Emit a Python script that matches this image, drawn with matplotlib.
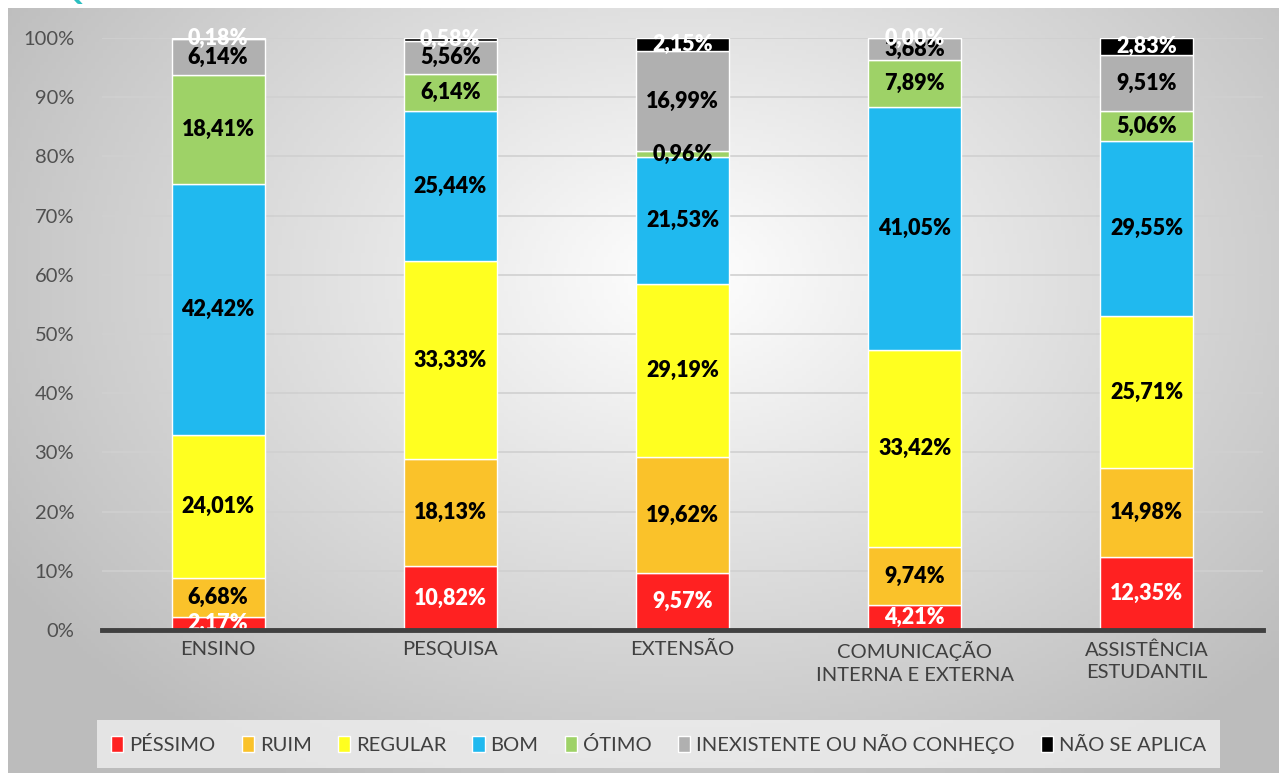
import numpy as np
import matplotlib
matplotlib.use("Agg")
import matplotlib.pyplot as plt

plt.rcParams['font.family'] = ['Lato', 'DejaVu Sans']

categorias = ['ENSINO', 'PESQUISA', 'EXTENSÃO', 'COMUNICAÇÃO\nINTERNA E EXTERNA', 'ASSISTÊNCIA\nESTUDANTIL']
series = ['PÉSSIMO', 'RUIM', 'REGULAR', 'BOM', 'ÓTIMO', 'INEXISTENTE OU NÃO CONHEÇO', 'NÃO SE APLICA']

pessimo = [2.17, 10.82, 9.57, 4.21, 12.35]
ruim = [6.68, 18.13, 19.62, 9.74, 14.98]
regular = [24.01, 33.33, 29.19, 33.42, 25.71]
bom = [42.42, 25.44, 21.53, 41.05, 29.55]
otimo = [18.41, 6.14, 0.96, 7.89, 5.06]
inexistente = [6.14, 5.56, 16.99, 3.68, 9.51]
nao_aplica = [0.18, 0.58, 2.15, 0.00, 2.83]

valores = [pessimo, ruim, regular, bom, otimo, inexistente, nao_aplica]
cores = ['#FF2121', '#FAC22A', '#FFFF20', '#20B9EF', '#9ED267', '#B0B0B0', '#000000']
cor_texto = ['white', 'black', 'black', 'black', 'black', 'black', 'white']

fig = plt.figure(figsize=(12.79, 7.73), dpi=100)
W, H = 1279, 773

# fundo com gradiente radial
bg = fig.add_axes([8 / W, 0, 1 - 8 / W, 1 - 8 / H])
yy, xx = np.mgrid[0:200, 0:320]
d = np.sqrt(((xx - 170) / 200.0) ** 2 + ((yy - 70) / 150.0) ** 2)
g = np.clip(1.0 - 0.26 * d, 0.74, 1.0)
bg.imshow(np.dstack([g, g, g]), aspect='auto', extent=[0, 1, 0, 1])
bg.set_axis_off()

# texto cortado no topo
fig.text(0.045, 1.012, 'Questões', color='#2BBFC0', fontsize=22, fontweight='bold',
         ha='left', va='center')

ax = fig.add_axes([102 / W, 1 - 630 / H, (1263 - 102) / W, (630 - 38) / H])
ax.patch.set_alpha(0)

x = np.arange(len(categorias))
base = np.zeros(len(categorias))
for vals, cor, nome, ct in zip(valores, cores, series, cor_texto):
    vals = np.array(vals)
    ax.bar(x, vals, 0.4, bottom=base, color=cor, edgecolor='white', linewidth=1, label=nome, zorder=3)
    for xi, b, v in zip(x, base, vals):
        ax.text(xi, b + v / 2, f'{v:.2f}%'.replace('.', ','), ha='center', va='center',
                color=ct, fontsize=15.5, fontweight='heavy', zorder=5)
    base = base + vals

ax.set_xlim(-0.5, 4.5)
ax.set_ylim(0, 100)
ax.set_yticks(range(0, 101, 10))
ax.set_yticklabels([f'{v}%' for v in range(0, 101, 10)], fontsize=14.5, color='#505050')
ax.set_xticks(x)
ax.set_xticklabels(categorias, fontsize=14.5, color='#404040', linespacing=1.4)
ax.tick_params(axis='both', length=0, pad=8)
ax.tick_params(axis='y', pad=20)
ax.grid(axis='y', color='#D0D0D0', linewidth=1.2, zorder=0)
for s in ['top', 'right', 'left']:
    ax.spines[s].set_visible(False)
ax.spines['bottom'].set_color('#404040')
ax.spines['bottom'].set_linewidth(3.5)
ax.spines['bottom'].set_zorder(6)

leg = fig.legend(loc='center', bbox_to_anchor=((88 + 1229) / 2 / W, 1 - 744 / H), ncol=7,
                 frameon=True, fontsize=14.5, handlelength=0.6, handleheight=0.9,
                 handletextpad=0.3, columnspacing=1.3, borderpad=0.7, fancybox=False)
leg.get_frame().set_facecolor('#F2F2F2')
leg.get_frame().set_alpha(0.75)
leg.get_frame().set_edgecolor('none')
for t in leg.get_texts():
    t.set_color('#404040')

fig.savefig('out.png', dpi=100)
